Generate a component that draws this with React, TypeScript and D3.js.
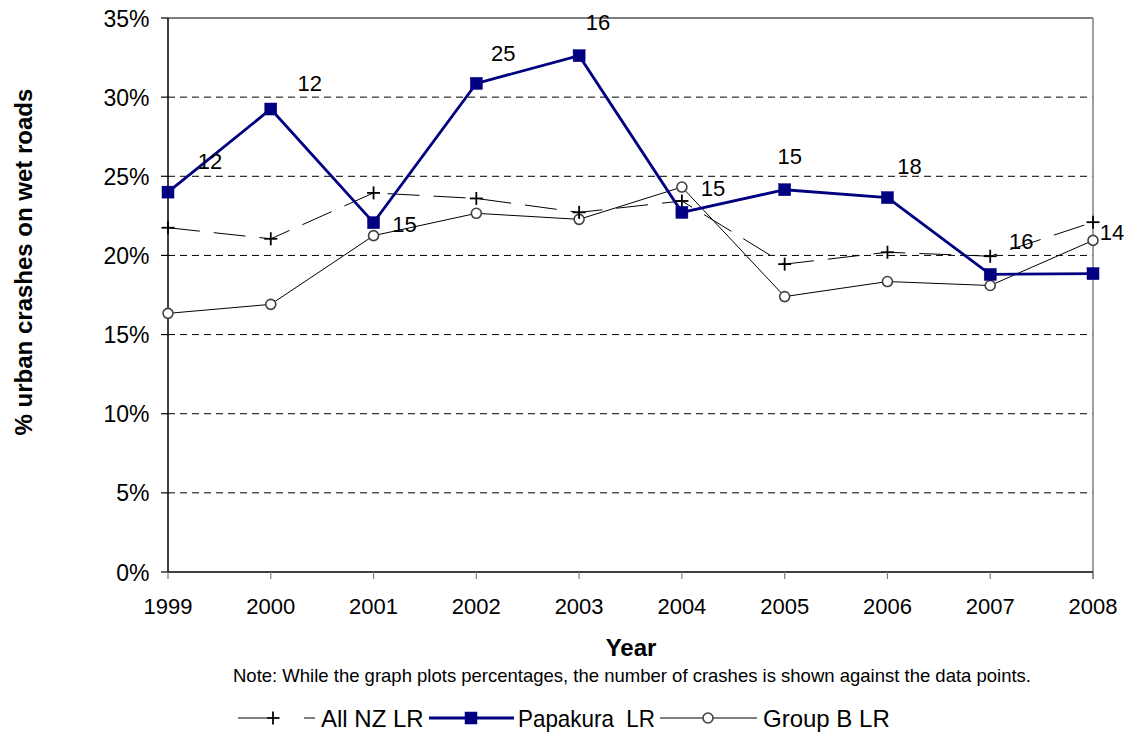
import React from "react";
import * as d3 from "d3";

const years = ["1999", "2000", "2001", "2002", "2003", "2004", "2005", "2006", "2007", "2008"];
const allNZ = [21.75, 21.05, 23.95, 23.6, 22.72, 23.44, 19.45, 20.2, 19.95, 22.1];
const papakura = [24.0, 29.25, 22.07, 30.87, 32.62, 22.72, 24.15, 23.65, 18.8, 18.85];
const groupB = [16.34, 16.91, 21.25, 22.66, 22.28, 24.32, 17.4, 18.35, 18.1, 20.95];
const crashCounts = ["12", "12", "15", "25", "16", "15", "15", "18", "16", "14"];
// label nudges (dx, dy) relative to the Papakura point, as placed in the original
const labelNudge: [number, number][] = [
  [42, -23], [39, -18], [31, 9], [27, -22], [19, -26], [31, -16], [5, -26], [22, -24], [31, -25], [19, -34],
];
const yTicks = [0, 5, 10, 15, 20, 25, 30, 35];

const W = 1127;
const H = 734;
const left = 168;
const right = 1093;
const top = 18;
const bottom = 572;
const NAVY = "#000080";
const FONT = "'Liberation Sans', Arial, sans-serif";

export default function App() {
  const x = d3.scalePoint<string>().domain(years).range([left, right]);
  const y = d3.scaleLinear().domain([0, 35]).range([bottom, top]);
  const line = d3
    .line<number>()
    .x((_, i) => x(years[i]) as number)
    .y((d) => y(d));

  const plus = (cx: number, cy: number, key: string) => (
    <g key={key} stroke="#000" strokeWidth={1.8}>
      <line x1={cx - 6.5} x2={cx + 6.5} y1={cy} y2={cy} />
      <line x1={cx} x2={cx} y1={cy - 6.5} y2={cy + 6.5} />
    </g>
  );
  const square = (cx: number, cy: number, key: string) => (
    <rect key={key} x={cx - 6} y={cy - 6} width={12} height={12} fill={NAVY} stroke={NAVY} strokeWidth={0.5} />
  );
  const circle = (cx: number, cy: number, key: string) => (
    <circle key={key} cx={cx} cy={cy} r={5} fill="#fff" stroke="#404040" strokeWidth={1.6} />
  );

  const legY = 718;

  return (
    <svg width={W} height={H} style={{ position: "absolute", left: 0, top: 0, background: "#fff" }} fontFamily={FONT}>
      <rect x={0} y={0} width={W} height={H} fill="#fff" />
      {/* gridlines */}
      {yTicks
        .filter((t) => t > 0 && t < 35)
        .map((t) => (
          <line key={"g" + t} x1={left} x2={right} y1={y(t)} y2={y(t)} stroke="#000" strokeWidth={1} strokeDasharray="7,5" />
        ))}
      {/* frame */}
      <line x1={left} x2={right} y1={top} y2={top} stroke="#000" strokeWidth={1.2} />
      <line x1={right} x2={right} y1={top} y2={bottom + 7} stroke="#808080" strokeWidth={1.5} />
      <line x1={left} x2={left} y1={top} y2={bottom} stroke="#000" strokeWidth={1.5} />
      <line x1={left} x2={right} y1={bottom} y2={bottom} stroke="#000" strokeWidth={1.5} />
      {/* y ticks */}
      {yTicks.map((t) => (
        <g key={"yt" + t}>
          <line x1={left - 7} x2={left} y1={y(t)} y2={y(t)} stroke="#000" strokeWidth={1.2} />
          <text x={149.5} y={y(t) + 8.5} textAnchor="end" fontSize={23} fill="#000">
            {t + "%"}
          </text>
        </g>
      ))}
      {/* x ticks */}
      {years.map((yr) => (
        <g key={"xt" + yr}>
          <line x1={x(yr)} x2={x(yr)} y1={bottom} y2={bottom + 7} stroke="#808080" strokeWidth={1.2} />
          <text x={x(yr)} y={614} textAnchor="middle" fontSize={22} fill="#000">
            {yr}
          </text>
        </g>
      ))}
      {/* series */}
      <path d={line(groupB) || ""} fill="none" stroke="#000" strokeWidth={1} />
      <path d={line(allNZ) || ""} fill="none" stroke="#000" strokeWidth={1} strokeDasharray="32,14" />
      <path d={line(papakura) || ""} fill="none" stroke={NAVY} strokeWidth={2.8} />
      {groupB.map((v, i) => circle(x(years[i]) as number, y(v), "c" + i))}
      {allNZ.map((v, i) => plus(x(years[i]) as number, y(v), "p" + i))}
      {papakura.map((v, i) => square(x(years[i]) as number, y(v), "s" + i))}
      {/* data labels */}
      {crashCounts.map((c, i) => (
        <text
          key={"l" + i}
          x={(x(years[i]) as number) + labelNudge[i][0]}
          y={y(papakura[i]) + labelNudge[i][1]}
          textAnchor="middle"
          fontSize={22}
          fill="#000"
        >
          {c}
        </text>
      ))}
      {/* axis titles */}
      <text x={631} y={656} textAnchor="middle" fontSize={24} fontWeight="bold" fill="#000">
        Year
      </text>
      <text
        transform={`translate(32, ${262}) rotate(-90)`}
        textAnchor="middle"
        fontSize={24}
        fontWeight="bold"
        fill="#000"
      >
        % urban crashes on wet roads
      </text>
      <text x={632} y={682} textAnchor="middle" fontSize={18.5} fill="#000">
        Note: While the graph plots percentages, the number of crashes is shown against the data points.
      </text>
      {/* legend */}
      <g>
        <line x1={238} x2={266} y1={legY} y2={legY} stroke="#000" strokeWidth={1} />
        <line x1={304} x2={315} y1={legY} y2={legY} stroke="#000" strokeWidth={1} />
        {plus(273, legY, "lp")}
        <text x={321} y={legY + 9} fontSize={24} fill="#000">All NZ LR</text>
        <line x1={429} x2={514} y1={legY} y2={legY} stroke={NAVY} strokeWidth={2.8} />
        {square(471, legY, "ls")}
        <text x={518} y={legY + 9} fontSize={24} fill="#000" textLength={137} lengthAdjust="spacingAndGlyphs" style={{ whiteSpace: "pre" }}>
          {"Papakura  LR"}
        </text>
        <line x1={660} x2={757} y1={legY} y2={legY} stroke="#000" strokeWidth={1} />
        {circle(708, legY, "lc")}
        <text x={763} y={legY + 9} fontSize={24} fill="#000">Group B LR</text>
      </g>
    </svg>
  );
}
